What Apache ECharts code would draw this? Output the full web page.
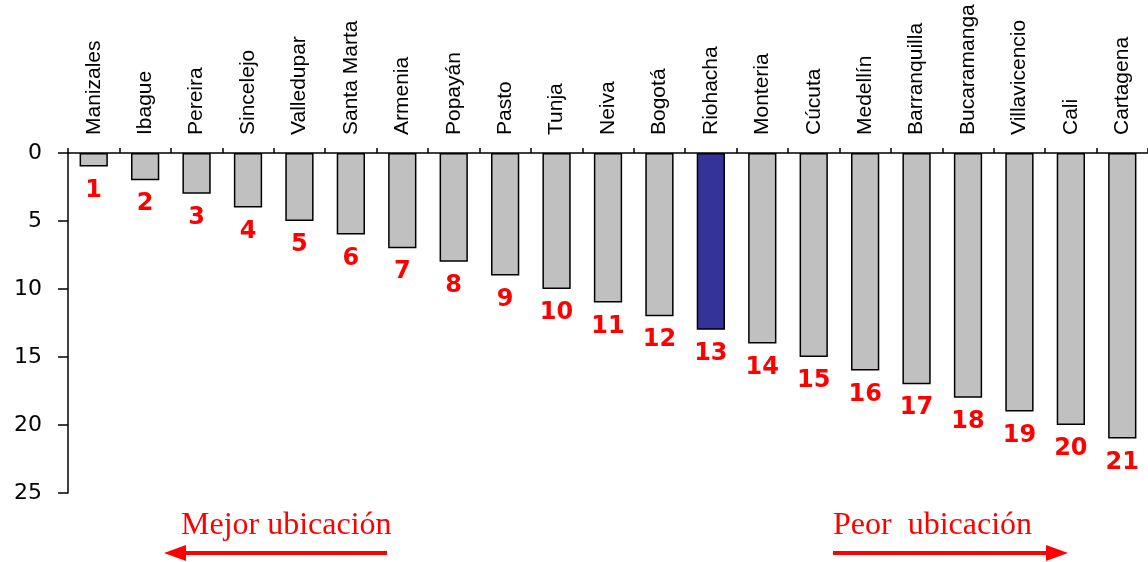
<!DOCTYPE html>
<html>
<head>
<meta charset="utf-8">
<script src="https://cdn.jsdelivr.net/npm/echarts@6/dist/echarts.min.js"></script>
<style>
html,body{margin:0;padding:0;background:#fff;}
#chart{width:1148px;height:562px;}
</style>
</head>
<body>
<div id="chart"></div>
<script>
var cities = ['Manizales','Ibague','Pereira','Sincelejo','Valledupar','Santa Marta','Armenia','Popayán','Pasto','Tunja','Neiva','Bogotá','Riohacha','Monteria','Cúcuta','Medellín','Barranquilla','Bucaramanga','Villavicencio','Cali','Cartagena'];
var positions = [1,2,3,4,5,6,7,8,9,10,11,12,13,14,15,16,17,18,19,20,21];
var highlightCity = 'Riohacha';
var yTicks = [0,5,10,15,20,25];

var chart = echarts.init(document.getElementById('chart'));
var data = positions.map(function(v, i){
  return {
    value: v,
    itemStyle: { color: cities[i] === highlightCity ? '#333399' : '#c0c0c0' }
  };
});
chart.setOption({
  animation: false,
  grid: { left: 68, right: 0, top: 153, height: 340, containLabel: false, outerBoundsMode: 'none' },
  xAxis: {
    type: 'category',
    position: 'top',
    data: cities,
    axisLine: { show: true, lineStyle: { color: '#000', width: 1.5 } },
    axisTick: { show: true, alignWithLabel: false, length: 5, lineStyle: { color: '#000', width: 1.5 } },
    axisLabel: {
      rotate: 90,
      margin: 18,
      color: '#000',
      fontFamily: "'Liberation Sans', Arial, sans-serif",
      fontSize: 21,
      interval: 0
    },
    splitLine: { show: false }
  },
  yAxis: {
    type: 'value',
    inverse: true,
    min: 0, max: 25, interval: 5,
    axisLine: { show: true, lineStyle: { color: '#000', width: 1.5 } },
    axisTick: { show: true, length: 10, lineStyle: { color: '#000', width: 1.5 } },
    axisLabel: {
      margin: 26,
      color: '#000',
      fontFamily: "'DejaVu Sans', sans-serif",
      fontSize: 22,
      formatter: function(v){ return yTicks.indexOf(v) >= 0 ? String(v) : ''; }
    },
    splitLine: { show: false }
  },
  series: [{
    type: 'bar',
    data: data,
    barCategoryGap: '45%',
    itemStyle: { borderColor: '#000', borderWidth: 1.5 },
    label: {
      show: true,
      position: 'bottom',
      distance: 12,
      color: '#ff0000',
      fontFamily: "'DejaVu Sans', sans-serif",
      fontWeight: 'bold',
      fontSize: 24
    }
  }],
  graphic: [
    { type: 'text', left: 181, top: 510, style: { text: 'Mejor ubicación', fill: '#ff0000', font: "32px 'Liberation Serif', serif" } },
    { type: 'line', shape: { x1: 180, y1: 553, x2: 387, y2: 553 }, style: { stroke: '#ff0000', lineWidth: 4 } },
    { type: 'polygon', shape: { points: [[164,553],[186,545],[186,561]] }, style: { fill: '#ff0000' } },
    { type: 'text', left: 833, top: 510, style: { text: 'Peor  ubicación', fill: '#ff0000', font: "32px 'Liberation Serif', serif" } },
    { type: 'line', shape: { x1: 833, y1: 553, x2: 1052, y2: 553 }, style: { stroke: '#ff0000', lineWidth: 4 } },
    { type: 'polygon', shape: { points: [[1068,553],[1046,545],[1046,561]] }, style: { fill: '#ff0000' } }
  ]
});
</script>
</body>
</html>
